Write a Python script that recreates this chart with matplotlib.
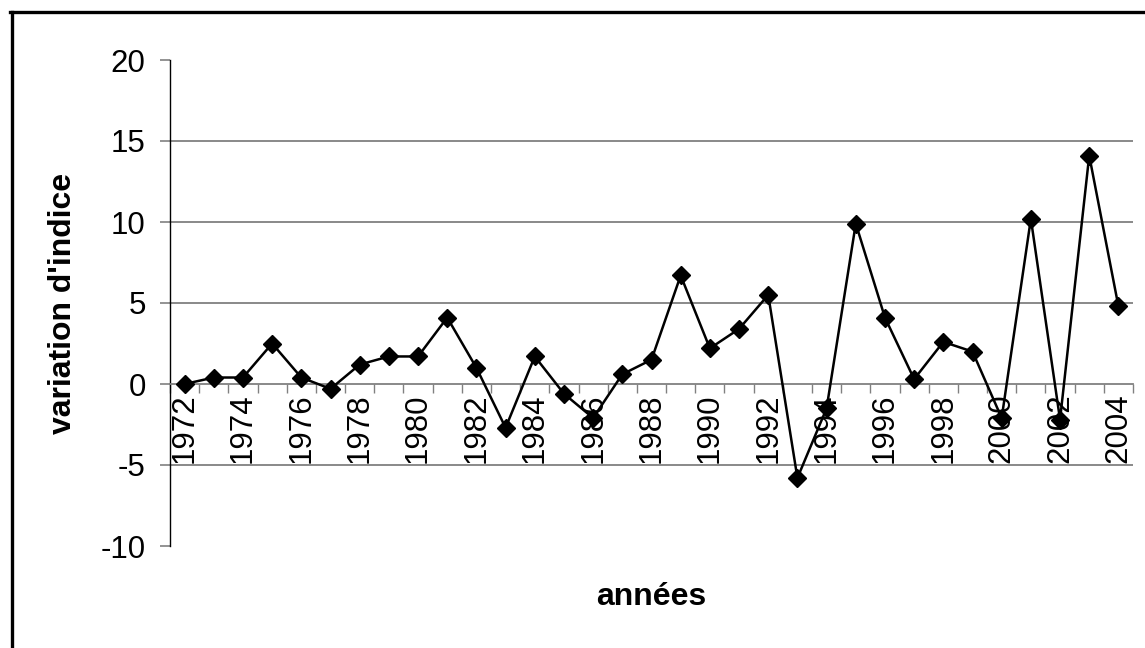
import matplotlib.pyplot as plt
from matplotlib.lines import Line2D

plt.rcParams['font.family'] = ['Liberation Sans', 'DejaVu Sans']

years = list(range(1972, 2005))
variation = [0.0, 0.4, 0.4, 2.5, 0.4, -0.3, 1.2, 1.7, 1.7, 4.1,
             1.0, -2.7, 1.7, -0.6, -2.1, 0.6, 1.5, 6.7, 2.2, 3.4,
             5.5, -5.8, -1.5, 9.9, 4.1, 0.3, 2.6, 2.0, -2.1, 10.2,
             -2.2, 14.1, 4.8]
y_ticks = [-10, -5, 0, 5, 10, 15, 20]
grid_vals = [-5, 5, 10, 15]

W, H = 1145, 648
fig = plt.figure(figsize=(W / 100, H / 100), dpi=100)
ax = fig.add_axes([170 / W, 1 - 546 / H, (1133 - 170) / W, (546 - 60) / H])

ax.set_xlim(years[0] - 0.5, years[-1] + 0.5)
ax.set_ylim(y_ticks[0], y_ticks[-1])

for g in grid_vals:
    ax.axhline(g, color='#808080', lw=1.3, zorder=1)

ax.plot(years, variation, color='black', lw=1.8, marker='D', ms=9, zorder=3)

for s in ['top', 'right']:
    ax.spines[s].set_visible(False)
ax.spines['bottom'].set_position(('data', 0))
ax.spines['bottom'].set_color('#808080')
ax.spines['bottom'].set_linewidth(1.3)
ax.spines['left'].set_color('black')
ax.spines['left'].set_linewidth(1.0)

ax.set_yticks(y_ticks)
ax.set_yticklabels([str(v) for v in y_ticks], fontsize=22.5)
ax.tick_params(axis='y', length=7.5, width=1.2, color='#808080', pad=10)

# ticks between categories, labels every other year
ax.set_xticks([y - 0.5 for y in years] + [years[-1] + 0.5])
ax.set_xticklabels([])
ax.tick_params(axis='x', which='major', direction='out', length=6.5, width=1.0, color='#808080')
ax.set_xticks(years[::2], minor=True)
ax.set_xticklabels([str(y) for y in years[::2]], minor=True, rotation=90,
                   fontsize=22.5, va='top', ha='center')
ax.tick_params(axis='x', which='minor', length=0, pad=7)

ax.set_ylabel("variation d'indice", fontsize=23, fontweight='bold')
ax.yaxis.set_label_coords(-0.0955, 0.5)
fig.text(651 / W, 1 - 597 / H, 'années', fontsize=23, fontweight='bold',
         ha='center', va='center')

# outer chart frame (only top and left visible)
fig.add_artist(Line2D([11.5 / W, 11.5 / W], [0, 1 - 11.5 / H], color='black', lw=2.4,
                      transform=fig.transFigure))
fig.add_artist(Line2D([10 / W, 1], [1 - 11.5 / H, 1 - 11.5 / H], color='black', lw=2.4,
                      transform=fig.transFigure))

fig.savefig('out.png', dpi=100)
